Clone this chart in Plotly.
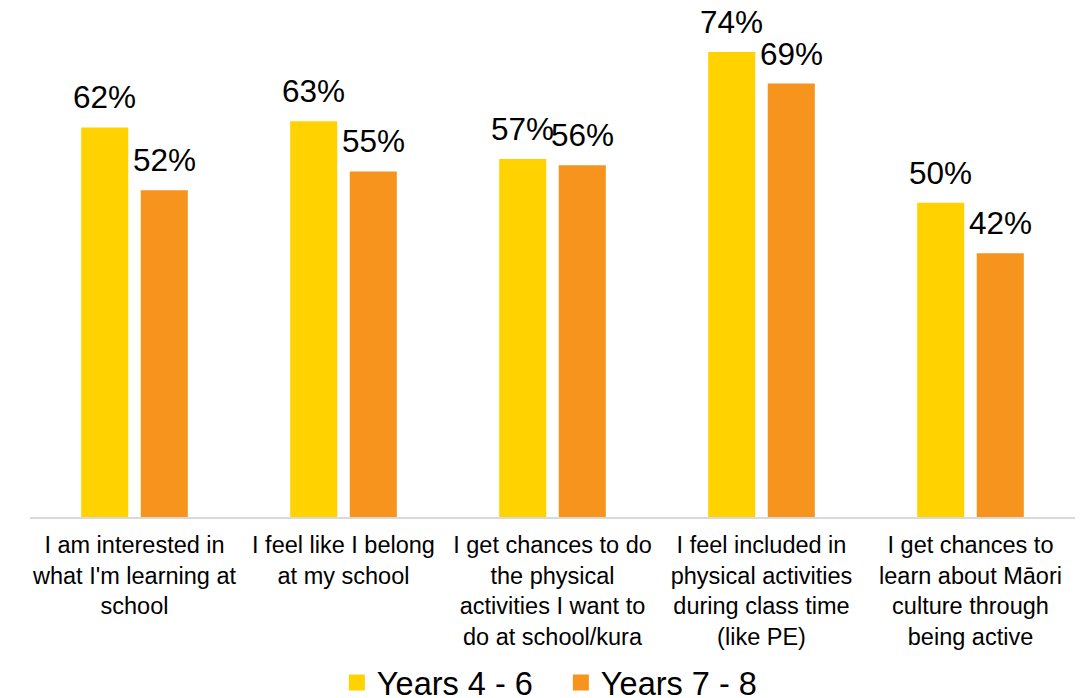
import plotly.graph_objects as go

categories = [
    "I am interested in<br>what I'm learning at<br>school",
    "I feel like I belong<br>at my school",
    "I get chances to do<br>the physical<br>activities I want to<br>do at school/kura",
    "I feel included in<br>physical activities<br>during class time<br>(like PE)",
    "I get chances to<br>learn about Māori<br>culture through<br>being active",
]
years_4_6 = [62, 63, 57, 74, 50]
years_7_8 = [52, 55, 56, 69, 42]
series_names = ["Years 4 - 6", "Years 7 - 8"]
colors = ["#FFD200", "#F7941E"]

font_family = "Liberation Sans, Arial, sans-serif"

fig = go.Figure()
for name, vals, col in zip(series_names, [years_4_6, years_7_8], colors):
    fig.add_trace(go.Bar(x=categories, y=vals, name=name, marker_color=col,
                         marker_line_width=0, showlegend=False))
# legend entries with larger square swatches
for name, col in zip(series_names, colors):
    fig.add_trace(go.Scatter(x=[None], y=[None], mode="markers", name=name,
                             marker=dict(symbol="square", size=17, color=col),
                             showlegend=True))

annotations = []
for vals, shift in [(years_4_6, -29.75), (years_7_8, 29.75)]:
    for c, v in zip(categories, vals):
        annotations.append(dict(x=c, y=v, text=f"{v}%", showarrow=False,
                                xshift=shift, yshift=10, yanchor="bottom",
                                font=dict(size=31.5, color="#000000", family=font_family)))

fig.update_layout(
    width=1076, height=690,
    margin=dict(l=22, r=9, t=2, b=181, autoexpand=False),
    paper_bgcolor="white", plot_bgcolor="white",
    barmode="group", bargap=0.43, bargroupgap=0.21,
    font=dict(family=font_family, color="#000000"),
    annotations=annotations,
    legend=dict(orientation="h", x=0.508, xanchor="center", y=-0.327, yanchor="middle",
                font=dict(size=32.5, color="#000000"), itemwidth=30,
                entrywidth=179, entrywidthmode="pixels",
                traceorder="normal"),
    showlegend=True,
)
fig.update_xaxes(showline=True, linecolor="#D9D9D9", linewidth=1.5, ticks="",
                 tickfont=dict(size=23.5, color="#000000"), showgrid=False,
                 automargin=False, ticklabelstandoff=6)
fig.update_yaxes(visible=False, range=[0, 80.7], showgrid=False, zeroline=False,
                 automargin=False)

fig.write_html("out.html")
